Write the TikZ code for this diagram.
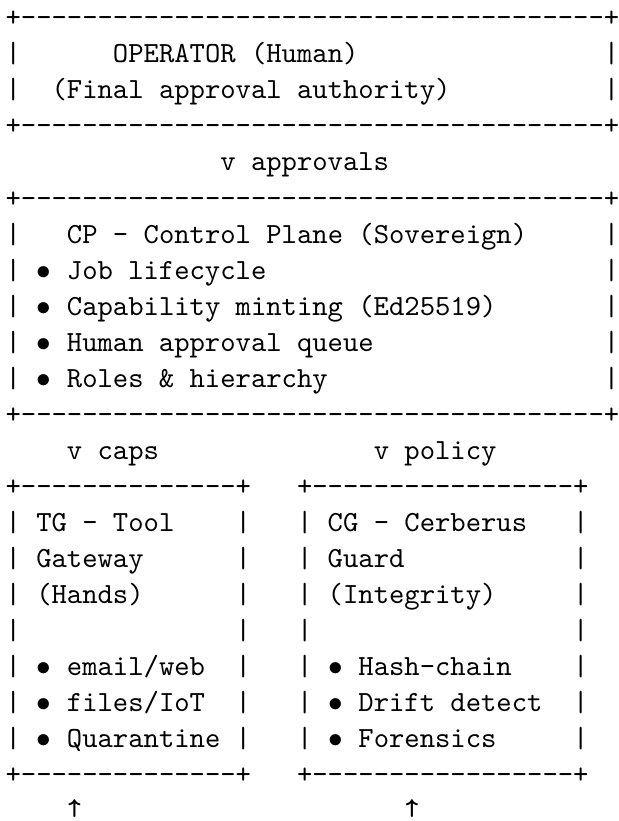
\RequirePackage{fix-cm}
\documentclass[tikz,border=0pt]{standalone}
\usepackage{fontspec}
\setmonofont{lmmono10-regular}[Extension=.otf]
\usepackage{tikz}
\usetikzlibrary{positioning}

\newcommand\asciifont{\ttfamily\fontsize{29.22pt}{36pt}\selectfont}
\newcommand\bul{\makebox[0.525em]{$\bullet$}}
\tikzset{
  ascii/.style={anchor=base west,inner sep=0pt,outer sep=0pt,font=\asciifont},
  uparr/.style={anchor=base,inner sep=0pt,outer sep=0pt,font=\asciifont}
}

\begin{document}
\begin{tikzpicture}[x=1pt,y=1pt]
  \useasboundingbox (0,0) rectangle (618,-821);
  % operator box
  \node[ascii] (optop)  at (5.6,-27)  {+--------------------------------------+};
  \node[ascii] (opname) at (5.6,-63)  {|~~~~~~OPERATOR~(Human)~~~~~~~~~~~~~~~~|};
  \node[ascii] (oprole) at (5.6,-99)  {|~~(Final~approval~authority)~~~~~~~~~~|};
  \node[ascii] (opbot)  at (5.6,-135) {+--------------------------------------+};
  \node[ascii] (approvals) at (5.6,-171) {~~~~~~~~~~~~~~v~approvals};
  % control plane box
  \node[ascii] (cptop)   at (5.6,-207) {+--------------------------------------+};
  \node[ascii] (cpname)  at (5.6,-243) {|~~~CP~-~Control~Plane~(Sovereign)~~~~~|};
  \node[ascii] (cpjobs)  at (5.6,-279) {|~\bul~Job~lifecycle~~~~~~~~~~~~~~~~~~~~~~|};
  \node[ascii] (cpmint)  at (5.6,-315) {|~\bul~Capability~minting~(Ed25519)~~~~~~~|};
  \node[ascii] (cpqueue) at (5.6,-351) {|~\bul~Human~approval~queue~~~~~~~~~~~~~~~|};
  \node[ascii] (cproles) at (5.6,-387) {|~\bul~Roles~\&~hierarchy~~~~~~~~~~~~~~~~~~|};
  \node[ascii] (cpbot)   at (5.6,-423) {+--------------------------------------+};
  \node[ascii] (caps)    at (5.6,-459) {~~~~v~caps};
  \node[ascii] (policy)  at (373.76,-459) {v~policy};
  % tool gateway box
  \node[ascii] (tgtop)   at (5.6,-495) {+--------------+};
  \node[ascii] (tgname)  at (5.6,-531) {|~TG~-~Tool~~~~|};
  \node[ascii] (tgname2) at (5.6,-567) {|~Gateway~~~~~~|};
  \node[ascii] (tgrole)  at (5.6,-603) {|~(Hands)~~~~~~|};
  \node[ascii] (tggap)   at (5.6,-639) {|~~~~~~~~~~~~~~|};
  \node[ascii] (tgmail)  at (5.6,-675) {|~\bul~email/web~~|};
  \node[ascii] (tgfiles) at (5.6,-711) {|~\bul~files/IoT~~|};
  \node[ascii] (tgquar)  at (5.6,-747) {|~\bul~Quarantine~|};
  \node[ascii] (tgbot)   at (5.6,-783) {+--------------+};
  % cerberus guard box
  \node[ascii] (cgtop)   at (297.06,-495) {+-----------------+};
  \node[ascii] (cgname)  at (297.06,-531) {|~CG~-~Cerberus~~~|};
  \node[ascii] (cgname2) at (297.06,-567) {|~Guard~~~~~~~~~~~|};
  \node[ascii] (cgrole)  at (297.06,-603) {|~(Integrity)~~~~~|};
  \node[ascii] (cggap)   at (297.06,-639) {|~~~~~~~~~~~~~~~~~|};
  \node[ascii] (cghash)  at (297.06,-675) {|~\bul~Hash-chain~~~~|};
  \node[ascii] (cgdrift) at (297.06,-711) {|~\bul~Drift~detect~~|};
  \node[ascii] (cgfor)   at (297.06,-747) {|~\bul~Forensics~~~~~|};
  \node[ascii] (cgbot)   at (297.06,-783) {+-----------------+};
  % arrows under the boxes
  \node[uparr] (tgarr) at (74.6,-817)  {↑};
  \node[uparr] (cgarr) at (412,-817) {↑};
\end{tikzpicture}
\end{document}
